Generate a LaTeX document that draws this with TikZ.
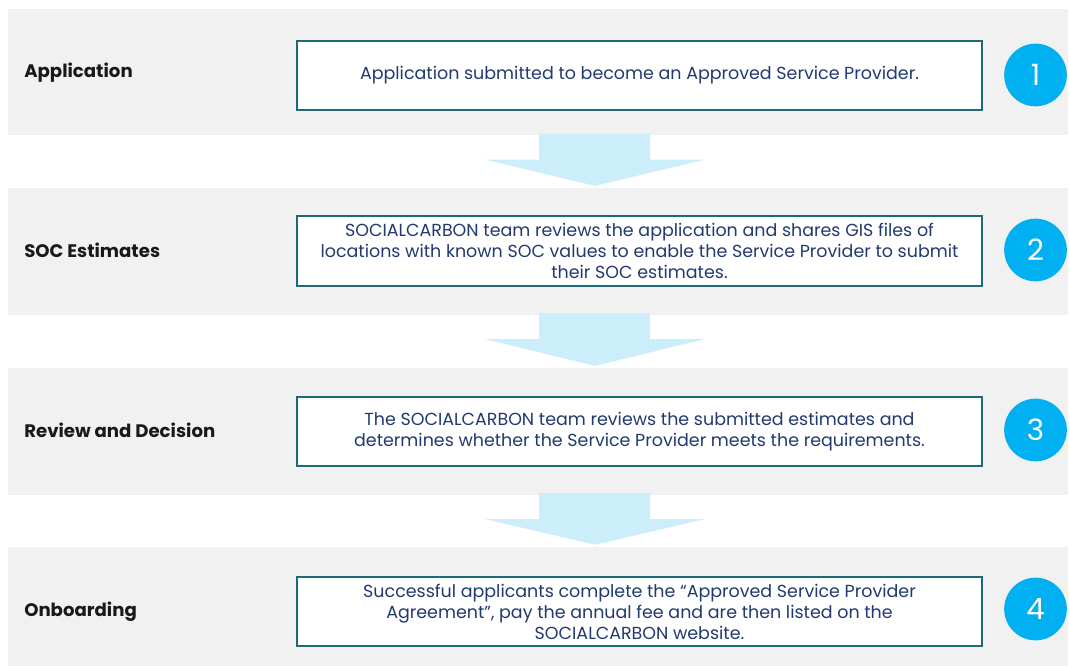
\documentclass[tikz,border=0pt]{standalone}
\usepackage{xcolor}
\usepackage{fontspec}
\setmainfont{Poppins}
\usetikzlibrary{positioning,calc}

\definecolor{bandgray}{HTML}{F1F1F1}
\definecolor{boxteal}{HTML}{1D6A78}
\definecolor{textnavy}{HTML}{223A70}
\definecolor{stepblue}{HTML}{00B0F0}
\definecolor{arrowblue}{HTML}{CCEEFA}

\tikzset{
    band/.style={fill=bandgray, minimum width=795pt, minimum height=95pt, inner sep=0pt},
    bandlabel/.style={anchor=west, inner sep=0pt, font=\fontsize{13.6}{16}\selectfont\bfseries, text=black!90},
    stepbox/.style={draw=boxteal, line width=1.5pt, fill=white, minimum width=514pt, minimum height=52pt,
        align=center, inner sep=0pt, text=textnavy,
        font=\fontsize{13.1}{15.75}\selectfont},
    stepnum/.style={circle, fill=stepblue, minimum size=47pt, inner sep=0pt, text=white,
        font=\fontsize{22}{22}\selectfont},
}

\begin{document}
\begin{tikzpicture}[x=0.75pt, y=-0.75pt]
    \useasboundingbox (0,0) rectangle (1070,666);

    % grey bands
    \node[band] (band1) at (538,72) {};
    \node[band] (band2) at (538,251.5) {};
    \node[band] (band3) at (538,431.5) {};
    \node[band, minimum height=89.25pt] (band4) at (538,606.5) {};

    % arrows between the bands
    \foreach \a/\b in {band1/band2, band2/band3, band3/band4} {
        \fill[arrowblue] ($(\a.south)+(1,-2)$) -- ($(\a.south)+(112,-2)$) -- ($(\a.south)+(112,24)$)
            -- ($(\a.south)+(167,24)$) -- ($(\b.north)+(57,-2)$) -- ($(\a.south)+(-53,24)$)
            -- ($(\a.south)+(1,24)$) -- cycle;
    }

    % stage names
    \node[bandlabel] (lab1) at (24,72.5) {Application};
    \node[bandlabel] (lab2) at (24,250) {SOC Estimates};
    \node[bandlabel] (lab3) at (24,430) {Review and Decision};
    \node[bandlabel] (lab4) at (24,611.5) {Onboarding};

    % descriptions
    \node[stepbox] (box1) at (639.5,75.5) {\raisebox{-2pt}{Application submitted to become an Approved Service Provider.}};
    \node[stepbox] (box2) at (639.5,251) {SOCIALCARBON team reviews the application and shares GIS files of\\locations with known SOC values to enable the Service Provider to submit\\their SOC estimates.};
    \node[stepbox] (box3) at (639.5,431.5) {The SOCIALCARBON team reviews the submitted estimates and\\determines whether the Service Provider meets the requirements.};
    \node[stepbox] (box4) at (639.5,611.5) {Successful applicants complete the “Approved Service Provider\\Agreement”, pay the annual fee and are then listed on the\\SOCIALCARBON website.};

    % numbers
    \node[stepnum] (num1) at (1035.5,75) {1};
    \node[stepnum] (num2) at (1035.5,250) {2};
    \node[stepnum] (num3) at (1035.5,430) {3};
    \node[stepnum] (num4) at (1035.5,609) {4};
\end{tikzpicture}
\end{document}
